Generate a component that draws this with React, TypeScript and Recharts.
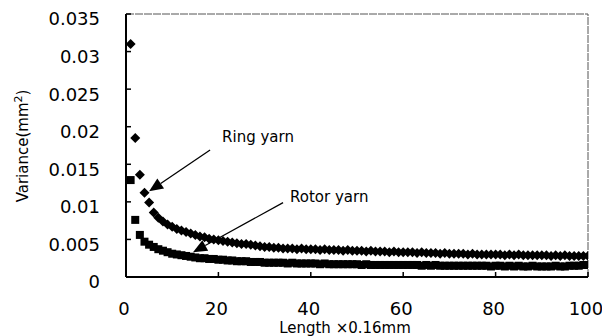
import React from 'react';
import { ScatterChart, Scatter, XAxis, YAxis, ReferenceLine, ReferenceDot } from 'recharts';

const lengths = [
  1, 2, 3, 4, 5, 6, 7, 8, 9, 10, 11, 12, 13, 14, 15, 16, 17, 18, 19, 20,
  21, 22, 23, 24, 25, 26, 27, 28, 29, 30, 31, 32, 33, 34, 35, 36, 37, 38, 39, 40,
  41, 42, 43, 44, 45, 46, 47, 48, 49, 50, 51, 52, 53, 54, 55, 56, 57, 58, 59, 60,
  61, 62, 63, 64, 65, 66, 67, 68, 69, 70, 71, 72, 73, 74, 75, 76, 77, 78, 79, 80,
  81, 82, 83, 84, 85, 86, 87, 88, 89, 90, 91, 92, 93, 94, 95, 96, 97, 98, 99, 100,
];

const ringVariance = [
  0.031, 0.0185, 0.0136, 0.0112, 0.0099, 0.0086, 0.0079, 0.0074, 0.007, 0.0067,
  0.0064, 0.0062, 0.006, 0.0058, 0.0056, 0.0054, 0.0053, 0.0051, 0.005, 0.0049,
  0.0048, 0.0047, 0.0046, 0.0045, 0.0044, 0.0044, 0.0043, 0.0042, 0.0041, 0.004,
  0.004, 0.0039, 0.0039, 0.0038, 0.0038, 0.0038, 0.0037, 0.0038, 0.0037, 0.0037,
  0.0037, 0.0036, 0.0037, 0.0036, 0.0036, 0.0036, 0.0035, 0.0036, 0.0035, 0.0035,
  0.0035, 0.0034, 0.0035, 0.0034, 0.0034, 0.0034, 0.0033, 0.0034, 0.0033, 0.0033,
  0.0033, 0.0033, 0.0032, 0.0033, 0.0032, 0.0032, 0.0032, 0.0031, 0.0032, 0.0031,
  0.0031, 0.0031, 0.0031, 0.003, 0.0031, 0.003, 0.003, 0.003, 0.003, 0.003,
  0.003, 0.0029, 0.003, 0.0029, 0.003, 0.0029, 0.0029, 0.0029, 0.0029, 0.0029,
  0.0029, 0.0028, 0.0029, 0.0028, 0.0029, 0.0028, 0.0028, 0.0028, 0.0028, 0.0028,
];

const rotorVariance = [
  0.0129, 0.0076, 0.0056, 0.0047, 0.0043, 0.004, 0.0037, 0.0035, 0.0033, 0.0031,
  0.003, 0.0029, 0.0028, 0.0027, 0.0026, 0.0025, 0.0025, 0.0024, 0.0024, 0.0023,
  0.0023, 0.0022, 0.0022, 0.0021, 0.0021, 0.0021, 0.002, 0.002, 0.002, 0.0019,
  0.0019, 0.0019, 0.0019, 0.0019, 0.0018, 0.0019, 0.0018, 0.0018, 0.0018, 0.0018,
  0.0018, 0.0017, 0.0018, 0.0017, 0.0017, 0.0017, 0.0017, 0.0017, 0.0017, 0.0017,
  0.0016, 0.0017, 0.0016, 0.0016, 0.0016, 0.0016, 0.0016, 0.0016, 0.0016, 0.0016,
  0.0016, 0.0016, 0.0016, 0.0015, 0.0016, 0.0015, 0.0016, 0.0015, 0.0015, 0.0015,
  0.0015, 0.0015, 0.0015, 0.0015, 0.0015, 0.0015, 0.0015, 0.0015, 0.0014, 0.0015,
  0.0015, 0.0014, 0.0015, 0.0014, 0.0015, 0.0014, 0.0014, 0.0015, 0.0014, 0.0014,
  0.0014, 0.0014, 0.0015, 0.0014, 0.0014, 0.0015, 0.0015, 0.0015, 0.0016, 0.0016,
];

const xTicks = [0, 20, 40, 60, 80, 100];
const yTicks = [0, 0.005, 0.01, 0.015, 0.02, 0.025, 0.03, 0.035];

const xLabel = 'Length ×0.16mm';
const yLabel = 'Variance(mm';

// annotation: label position and arrow (from -> to), in data units
const annotationText = ['Ring yarn', 'Rotor yarn'];
const annotationTextX = [20.8, 35.5];
const annotationTextY = [0.0179, 0.01];
const arrowFromX = [18.2, 34.0];
const arrowFromY = [0.0169, 0.0099];
const arrowToX = [5.0, 14.5];
const arrowToY = [0.0114, 0.0033];

const ringData = lengths.map((x, i) => ({ x, y: ringVariance[i] }));
const rotorData = lengths.map((x, i) => ({ x, y: rotorVariance[i] }));

const FONT = 'DejaVu Sans, sans-serif';

const Diamond = (props: any) => {
  const { cx, cy } = props;
  const r = 5;
  return (
    <polygon
      points={`${cx},${cy - r} ${cx + r},${cy} ${cx},${cy + r} ${cx - r},${cy}`}
      fill="#000"
    />
  );
};

const Square = (props: any) => {
  const { cx, cy } = props;
  const s = 8;
  return <rect x={cx - s / 2} y={cy - s / 2} width={s} height={s} fill="#000" />;
};

const Arrow = (props: any) => {
  const { x1, y1, x2, y2 } = props;
  const dx = x2 - x1;
  const dy = y2 - y1;
  const len = Math.sqrt(dx * dx + dy * dy) || 1;
  const ux = dx / len;
  const uy = dy / len;
  const hl = 14;
  const hw = 6;
  const bx = x2 - ux * hl;
  const by = y2 - uy * hl;
  const px = -uy;
  const py = ux;
  return (
    <g>
      <line x1={x1} y1={y1} x2={bx} y2={by} stroke="#000" strokeWidth={1.3} />
      <polygon
        points={`${x2},${y2} ${bx + px * hw},${by + py * hw} ${bx - px * hw},${by - py * hw}`}
        fill="#000"
      />
    </g>
  );
};

const makeTextLabel = (text: string) => (props: any) => {
  const { viewBox } = props;
  const cx = viewBox.x + viewBox.width / 2;
  const cy = viewBox.y + viewBox.height / 2;
  return (
    <text x={cx} y={cy} fontFamily={FONT} fontSize={15} fill="#000" textAnchor="start">
      {text}
    </text>
  );
};

const YTitle = () => (
  <text
    x={0}
    y={0}
    transform="translate(28,146) rotate(-90)"
    textAnchor="middle"
    fontFamily={FONT}
    fontSize={15}
    fill="#000"
  >
    {yLabel}
    <tspan fontSize={11} dy={-6}>2</tspan>
    <tspan dy={6}>)</tspan>
  </text>
);

export default function App() {
  return (
    <div style={{ position: 'absolute', left: 0, top: 0, width: 602, height: 336, background: '#fff' }}>
      <ScatterChart width={602} height={336} margin={{ top: 14, right: 14, bottom: 0, left: 0 }}>
        <XAxis
          type="number"
          dataKey="x"
          domain={[0, 100]}
          ticks={xTicks}
          allowDataOverflow
          height={59}
          axisLine={{ stroke: '#000', strokeWidth: 2 }}
          tickLine={{ stroke: '#000', strokeWidth: 1.5 }}
          tickSize={-5}
          tickMargin={30}
          tick={{ fill: '#000', fontSize: 18, fontFamily: FONT, dx: -2 }}
          label={{
            value: xLabel,
            position: 'insideBottom',
            offset: 3,
            dx: -12,
            style: { fill: '#000', fontSize: 15, fontFamily: FONT },
          }}
        />
        <YAxis
          type="number"
          dataKey="y"
          domain={[0, 0.035]}
          ticks={yTicks}
          allowDataOverflow
          width={126}
          axisLine={{ stroke: '#000', strokeWidth: 2 }}
          tickLine={{ stroke: '#000', strokeWidth: 1.5 }}
          tickSize={-5}
          tickMargin={31}
          tick={{ fill: '#000', fontSize: 18, fontFamily: FONT, dy: 5 }}
          tickFormatter={(v: number) => String(v)}
          label={<YTitle />}
        />
        <ReferenceLine y={0.035} stroke="#555" strokeWidth={1} strokeDasharray="8 1" />
        <ReferenceLine x={100} stroke="#555" strokeWidth={1} strokeDasharray="8 1" />
        <Scatter data={ringData} shape={<Diamond />} isAnimationActive={false} />
        <Scatter data={rotorData} shape={<Square />} isAnimationActive={false} />
        {annotationText.map((t, i) => (
          <ReferenceLine
            key={'a' + i}
            segment={[
              { x: arrowFromX[i], y: arrowFromY[i] },
              { x: arrowToX[i], y: arrowToY[i] },
            ]}
            shape={<Arrow />}
            ifOverflow="visible"
          />
        ))}
        {annotationText.map((t, i) => (
          <ReferenceDot
            key={'t' + i}
            x={annotationTextX[i]}
            y={annotationTextY[i]}
            r={0}
            fill="none"
            stroke="none"
            ifOverflow="visible"
            label={makeTextLabel(t)}
          />
        ))}
      </ScatterChart>
    </div>
  );
}
